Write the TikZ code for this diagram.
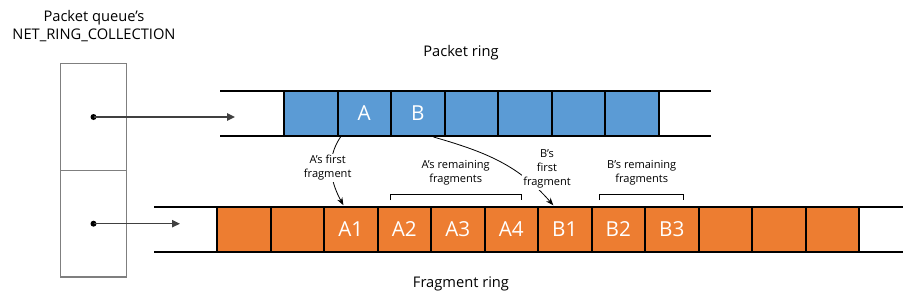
\documentclass[tikz,border=0pt]{standalone}
\usepackage{fontspec}
\setmainfont{Open Sans}
\usepackage{xcolor}
\usetikzlibrary{arrows.meta,positioning,calc}
\definecolor{pktblue}{HTML}{5B9BD5}
\definecolor{fragorange}{HTML}{ED7D31}
\definecolor{ptrgray}{HTML}{404040}
\definecolor{boxgray}{HTML}{7F7F7F}

\begin{document}
\begin{tikzpicture}[x=0.75pt,y=0.75pt,>=Stealth,font=\fontsize{11}{13.5}\selectfont,
  cell/.style={draw=black,line width=1.5pt,minimum width=40.125pt,minimum height=33.75pt,
    inner sep=0pt,text=white,font=\fontsize{15.5}{18}\selectfont},
  qbox/.style={draw=boxgray,line width=1.1pt,minimum width=49.8pt,minimum height=80pt,inner sep=0pt},
  dot/.style={circle,fill=black,inner sep=0pt,minimum size=4.5pt},
  ptr/.style={draw=ptrgray,line width=1.1pt,-{Triangle[length=6pt,width=5.5pt]}},
  note/.style={fill=white,inner sep=1pt,align=center,font=\fontsize{8.3}{10.5}\selectfont},
  link/.style={line width=0.6pt,->,shorten >=0.5pt}]
  \useasboundingbox (0,0) rectangle (903,301);

  \node[align=center] (qtitle) at (94,275) {Packet queue's\\NET\_RING\_COLLECTION};
  \node (ptitle) at (461,248) {Packet ring};
  \node (ftitle) at (461,17) {Fragment ring};

  \node[qbox] (q1) at (93.5,184) {};
  \node[qbox] (q2) at (93.5,77.3) {};
  \node[dot] (d1) at (q1.center) {};
  \node[dot] (d2) at (q2.center) {};

  \draw[line width=1.5pt] (220,210) -- (711,210) (220,165) -- (711,165);
  \draw[line width=1.5pt] (154,94.3) -- (903,94.3) (154,49) -- (903,49);

  \foreach \lbl [count=\i from 0] in {{},A,B,{},{},{},{}}
    \node[cell,fill=pktblue] (p\i) at ({310.75+53.5*\i},187.5) {\lbl};
  \foreach \lbl [count=\i from 0] in {{},{},A1,A2,A3,A4,B1,B2,B3,{},{},{}}
    \node[cell,fill=fragorange] (f\i) at ({243.75+53.5*\i},71.7) {\lbl};

  \coordinate (r1) at (235,184);
  \coordinate (r2) at (180,77.3);
  \draw[ptr] (d1.center) -- (r1);
  \draw[ptr] (d2.center) -- (r2);

  \draw[link] ($(p1.south west)+(4,0)$) to[out=-124,in=119] ($(f2.north)+(-7,0)$);
  \draw[link] ($(p2.south east)+(-12,0)$) to[out=-16,in=131] ($(f6.north)+(-11,0)$);

  \draw[line width=0.6pt] (390,101) |- (521.7,107) -- (521.7,101);
  \draw[line width=0.6pt] (599.7,101) |- (683.3,107) -- (683.3,101);

  \node[note] (afirst) at (327.7,133) {A's first\\fragment};
  \node[note] (arest) at (455.7,128) {A's remaining\\fragments};
  \node[note] (bfirst) at (547,132) {B's\\first\\fragment};
  \node[note] (brest) at (641.7,128) {B's remaining\\fragments};
\end{tikzpicture}
\end{document}
